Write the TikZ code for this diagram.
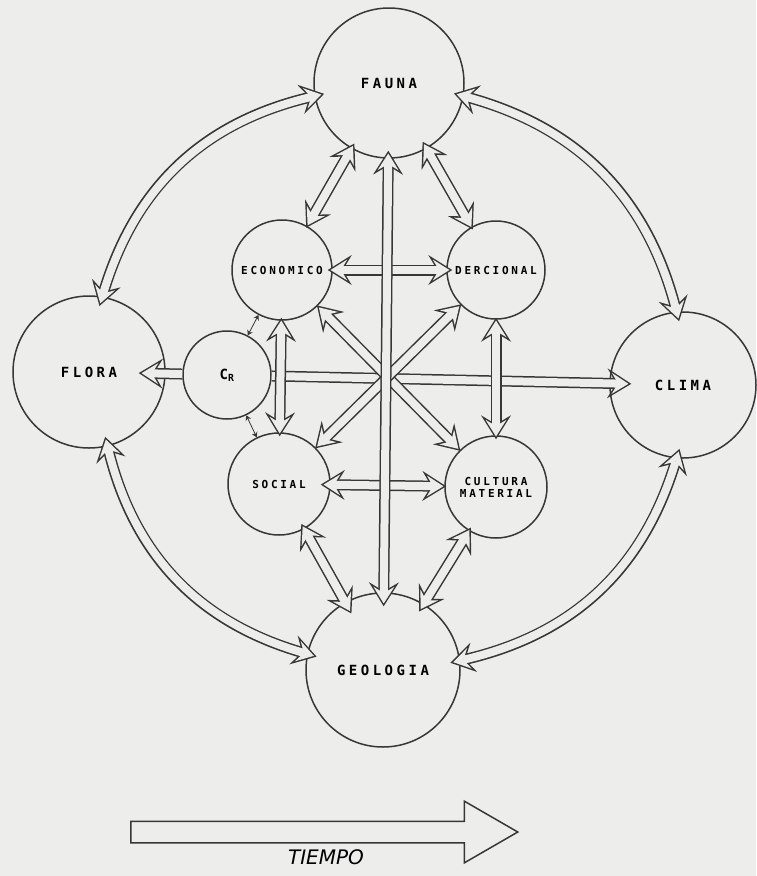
\documentclass[tikz,border=0pt]{standalone}
\usepackage{fontspec}
\newfontfamily\lblfont[LetterSpace=25]{DejaVu Sans Mono}
\setsansfont{DejaVu Sans}
\usetikzlibrary{arrows.meta,shapes.arrows}
\definecolor{paper}{RGB}{237,237,235}
\definecolor{ink}{RGB}{55,55,55}

\begin{document}
\begin{tikzpicture}[x=1pt,y=-1pt,
Otip/.tip={Stealth[length=24pt,width=30pt,inset=9pt,line width=0pt]},
Itip/.tip={Stealth[length=16.7pt,width=21pt,inset=6.25pt,line width=0pt]},
ring/.style={draw=ink,circle,line width=1.5pt,inner sep=0pt,font=\lblfont\bfseries\fontsize{14}{14}\selectfont},
small/.style={font=\lblfont\bfseries\fontsize{11}{12}\selectfont,align=center},
twohead/.style 2 args={draw=ink,line width=11pt,Otip-Otip,shorten <=#1,shorten >=#2,
  postaction={draw=paper,line width=8pt,Itip-Itip,shorten <=#1+2.8pt,shorten >=#2+2.8pt}},
onehead/.style={draw=ink,line width=11pt,-Otip,shorten >=#1,
  postaction={draw=paper,line width=8pt,-Itip,shorten >=#1+2.8pt}},
tiny/.style={draw=ink,line width=0.8pt,{Stealth[length=5pt,width=6pt]}-{Stealth[length=5pt,width=6pt]}}]
\fill[paper] (0,0) rectangle (756,876);
\node[ring,minimum size=150pt] (fauna) at (389,83) {FAUNA};
\node[ring,small,minimum size=100pt] (economico) at (282,270) {ECONOMICO};
\node[ring,small,minimum size=98pt] (dercional) at (496,270) {DERCIONAL};
\node[ring,minimum size=152pt] (flora) at (89,372) {FLORA};
\node[ring,minimum size=88pt] (cr) at (227,375) {C\textsubscript{R}};
\node[ring,minimum size=146pt] (clima) at (683,385) {CLIMA};
\node[ring,small,minimum size=102pt] (social) at (279,484) {SOCIAL};
\node[ring,small,minimum size=102pt] (cultura) at (496,487) {CULTURA\\MATERIAL};
\node[ring,minimum size=154pt] (geologia) at (383,670) {GEOLOGIA};
\draw[twohead={-10pt}{-10pt}] (flora.80) to[bend left=30] (fauna.190);
\draw[twohead={-10pt}{-10pt}] (fauna.350) to[bend left=30] (clima.95);
\draw[twohead={-10pt}{-10pt}] (clima.265) to[bend left=30] (geologia.7);
\draw[twohead={-10pt}{-10pt}] (geologia.168) to[bend left=30] (flora.284);
\draw[tiny] (cr) -- (economico); \draw[tiny] (cr) -- (social);
\draw[onehead=-27pt] (cr) -- (flora);
\draw[onehead=-22pt] (cr) -- (clima);
\draw[twohead={-5pt}{-6pt}] (economico) -- (dercional);
\draw[twohead={-10pt}{-2pt}] (social) -- (cultura);
\draw[twohead={-3pt}{-4pt}] (economico) -- (social);
\draw[twohead={-2pt}{-4pt}] (dercional) -- (cultura);
\draw[twohead={-1pt}{-1pt}] (economico) -- (cultura);
\draw[twohead={-1pt}{-1pt}] (dercional) -- (social);
\draw[twohead={-6pt}{-2pt}] (fauna) -- (economico);
\draw[twohead={-8pt}{-3pt}] (fauna) -- (dercional);
\draw[twohead={-6pt}{-13pt}] (social) -- (geologia);
\draw[twohead={-4pt}{-9pt}] (cultura) -- (geologia);
\draw[twohead={-8pt}{-14pt}] (fauna) -- (geologia);
\node[single arrow,draw=ink,line width=1.5pt,fill=paper,anchor=tail,minimum height=387pt,inner xsep=0pt,inner ysep=10pt,
  single arrow head extend=20pt,single arrow tip angle=60] (tiempo) at (130,832) {};
\node[font=\sffamily\itshape\fontsize{20}{20}\selectfont] (tiempolbl) at (326,857) {TIEMPO};
\end{tikzpicture}
\end{document}
